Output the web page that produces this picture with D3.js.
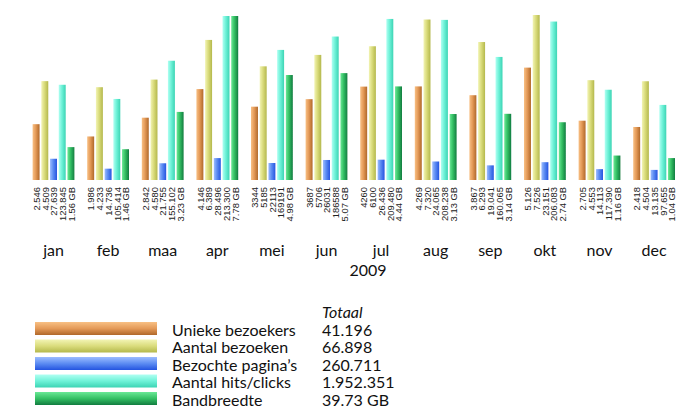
<!DOCTYPE html>
<html>
<head>
<meta charset="utf-8">
<script src="https://cdn.jsdelivr.net/npm/d3@7"></script>
<style>
  body { margin: 0; background: #fff; }
  text { font-family: Lato, "Open Sans", sans-serif; fill: #111; }
</style>
</head>
<body>
<div id="chart"></div>
<script>
const months = ["jan", "feb", "maa", "apr", "mei", "jun", "jul", "aug", "sep", "okt", "nov", "dec"];

const uniqueVisitors = [2546, 1986, 2842, 4146, 3344, 3687, 4260, 4269, 3867, 5126, 2705, 2418];
const visits = [4509, 4233, 4580, 6389, 5185, 5706, 6100, 7320, 6293, 7526, 4553, 4504];
const pages = [27639, 14736, 21755, 28496, 22113, 26031, 26436, 24065, 19041, 23151, 14113, 13135];
const hits = [123845, 105414, 155102, 213300, 169191, 186588, 209480, 208238, 160065, 206083, 117390, 97655];
const bandwidth = [1.56, 1.46, 3.23, 7.78, 4.98, 5.07, 4.44, 3.13, 3.14, 2.74, 1.16, 1.04];

// value labels as printed under the bars
const uniqueLabels = ["2.546", "1.986", "2.842", "4.146", "3344", "3687", "4260", "4.269", "3.867", "5.126", "2.705", "2.418"];
const visitLabels = ["4.509", "4.233", "4.580", "6.389", "5185", "5706", "6100", "7.320", "6.293", "7.526", "4.553", "4.504"];
const pageLabels = ["27.639", "14.736", "21.755", "28.496", "22113", "26031", "26.436", "24.065", "19.041", "23.151", "14.113", "13.135"];
const hitLabels = ["123.845", "105.414", "155.102", "213.300", "169191", "186588", "209.480", "208.238", "160.065", "206.083", "117.390", "97.655"];
const bandwidthLabels = ["1.56 GB", "1.46 GB", "3.23 GB", "7.78 GB", "4.98 GB", "5.07 GB", "4.44 GB", "3.13 GB", "3.14 GB", "2.74 GB", "1.16 GB", "1.04 GB"];

const seriesNames = ["Unieke bezoekers", "Aantal bezoeken", "Bezochte pagina\u2019s", "Aantal hits/clicks", "Bandbreedte"];
const totals = ["41.196", "66.898", "260.711", "1.952.351", "39.73 GB"];
const year = "2009";

// light, mid, dark per series
const palette = [
    ["#f8c084", "#e49a58", "#b0682a"],
    ["#f2f4b4", "#dadc7c", "#b4b84c"],
    ["#9cbcff", "#5c8cf2", "#2454e0"],
    ["#b0fff2", "#6ff2d8", "#3cd4b4"],
    ["#6ae896", "#34c064", "#127c40"],
];

const width = 677, height = 407;
const baseY = 180, topY = 16;

const svg = d3.select("#chart").append("svg")
    .attr("width", width)
    .attr("height", height);

const defs = svg.append("defs");
palette.forEach((c, i) => {
    const h = defs.append("linearGradient").attr("id", "barGrad" + i)
        .attr("x1", "0%").attr("x2", "100%").attr("y1", "0%").attr("y2", "0%");
    h.append("stop").attr("offset", "0%").attr("stop-color", c[0]);
    h.append("stop").attr("offset", "45%").attr("stop-color", c[1]);
    h.append("stop").attr("offset", "100%").attr("stop-color", c[2]);

    const v = defs.append("linearGradient").attr("id", "legGrad" + i)
        .attr("x1", "0%").attr("x2", "0%").attr("y1", "0%").attr("y2", "100%");
    v.append("stop").attr("offset", "0%").attr("stop-color", c[0]);
    v.append("stop").attr("offset", "50%").attr("stop-color", c[1]);
    v.append("stop").attr("offset", "100%").attr("stop-color", c[2]);
});
defs.append("filter").attr("id", "soft")
    .attr("x", "-50%").attr("y", "-20%").attr("width", "200%").attr("height", "140%")
    .append("feGaussianBlur").attr("stdDeviation", 0.6);

const x0 = d3.scaleBand().domain(months).range([26.2, 681.4]);
const x1 = d3.scaleBand().domain(d3.range(5)).range([0, 41.8]).paddingInner(0.2);
const groupOffset = (x0.bandwidth() - 41.8) / 2;

// visitors & visits share a scale, pages & hits share one, bandwidth has its own
const yVisits = d3.scaleLinear().domain([0, d3.max(visits)]).range([baseY, 15]);
const yHits = d3.scaleLinear().domain([0, d3.max(hits)]).range([baseY, topY]);
const yBand = d3.scaleLinear().domain([0, d3.max(bandwidth)]).range([baseY, topY]);

const series = [
    { values: uniqueVisitors, labels: uniqueLabels, y: yVisits },
    { values: visits, labels: visitLabels, y: yVisits },
    { values: pages, labels: pageLabels, y: yHits },
    { values: hits, labels: hitLabels, y: yHits },
    { values: bandwidth, labels: bandwidthLabels, y: yBand },
];

const group = svg.selectAll("g.month")
    .data(months)
    .enter().append("g")
    .attr("class", "month")
    .attr("transform", (d) => `translate(${x0(d) + groupOffset},0)`);

group.each(function (m, mi) {
    const g = d3.select(this);
    series.forEach((s, si) => {
        const v = s.values[mi];
        g.append("rect")
            .attr("x", x1(si))
            .attr("y", s.y(v))
            .attr("width", x1.bandwidth())
            .attr("height", baseY - s.y(v))
            .attr("fill", `url(#barGrad${si})`)
            .attr("filter", "url(#soft)");

        const cx = x1(si) + x1.bandwidth() / 2;
        g.append("text")
            .attr("transform", `translate(${cx + 0.5},187) rotate(-90)`)
            .attr("text-anchor", "end")
            .attr("dy", "0.35em")
            .style("font-family", "'Liberation Sans', Arial, sans-serif")
            .style("font-size", "9.4px")
            .style("fill", "#222")
            .text(s.labels[mi]);
    });
});

// month axis labels
svg.selectAll("text.mlabel")
    .data(months)
    .enter().append("text")
    .attr("class", "mlabel")
    .attr("x", (d) => x0(d) + x0.bandwidth() / 2)
    .attr("y", 256)
    .attr("text-anchor", "middle")
    .style("font-size", "16px")
    .text((d) => d);

svg.append("text")
    .attr("x", 368)
    .attr("y", 276)
    .attr("text-anchor", "middle")
    .style("font-size", "16px")
    .text(year);

// legend
const legend = svg.append("g");
legend.append("text")
    .attr("x", 322).attr("y", 318)
    .style("font-size", "16px")
    .style("font-style", "italic")
    .text("Totaal");

const row = legend.selectAll("g.row")
    .data(seriesNames)
    .enter().append("g")
    .attr("class", "row")
    .attr("transform", (d, i) => `translate(0,${i * 17.5})`);

row.append("rect")
    .attr("x", 35).attr("y", 322)
    .attr("width", 122).attr("height", 13)
    .attr("fill", (d, i) => `url(#legGrad${i})`);

row.append("text")
    .attr("x", 172).attr("y", 335.5)
    .style("font-size", "16px")
    .text((d) => d);

row.append("text")
    .attr("x", 322).attr("y", 335.5)
    .style("font-size", "16px")
    .text((d, i) => totals[i]);
</script>
</body>
</html>
